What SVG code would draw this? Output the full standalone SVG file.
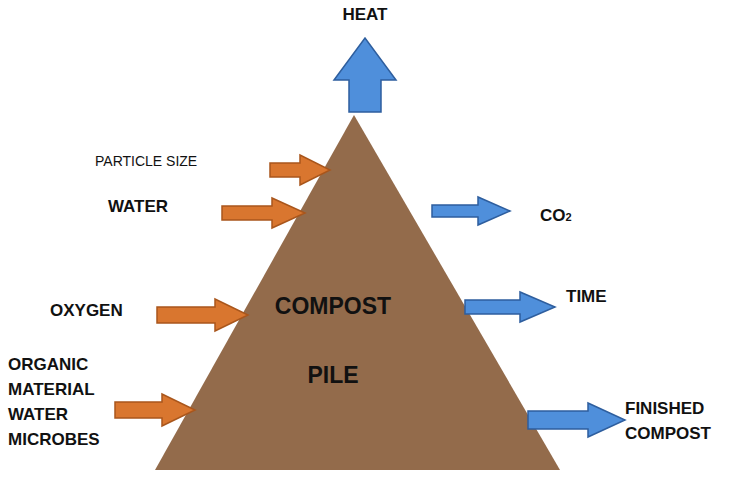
<svg xmlns="http://www.w3.org/2000/svg" width="742" height="494" viewBox="0 0 742 494">
<style>
.o{fill:#D9762F;stroke:#A9561C;stroke-width:1.5}
.b{fill:#4F8FDB;stroke:#2E5E9E;stroke-width:1.5}
text{font-family:"Liberation Sans",Arial,sans-serif;font-weight:bold;fill:#111}
.l{font-size:17px}
.n{font-weight:normal;font-size:14px}
</style>
<rect width="742" height="494" fill="#fff"/>
<g id="pile">
<polygon points="354,115 155,470 560,470" fill="#936B4B"/>
<text x="333" y="314" font-size="23" text-anchor="middle">COMPOST</text>
<text x="333" y="383" font-size="23" text-anchor="middle">PILE</text>
</g>
<g id="connectors">
<polygon class="b" points="349,112 349,80 334,80 365,38 396,80 381,80 381,112"/>
<polygon class="o" points="270,163 300,163 300,155 330,170 300,185 300,177 270,177"/>
<polygon class="o" points="222,206 272,206 272,198 305,213 272,228 272,220 222,220"/>
<polygon class="o" points="157,307 215,307 215,299 248,315 215,331 215,323 157,323"/>
<polygon class="o" points="115,402 162,402 162,394 195,410 162,426 162,418 115,418"/>
<polygon class="b" points="432,205 478,205 478,197 510,211 478,225 478,217 432,217"/>
<polygon class="b" points="465,300 520,300 520,292 555,307 520,322 520,314 465,314"/>
<polygon class="b" points="528,411 588,411 588,403 625,420 588,437 588,429 528,429"/>
</g>
<g id="heat"><text class="l" x="365" y="20" text-anchor="middle">HEAT</text></g>
<g id="particle"><text class="n" x="95" y="166">PARTICLE SIZE</text></g>
<g id="water"><text class="l" x="108" y="212">WATER</text></g>
<g id="oxygen"><text class="l" x="50" y="316">OXYGEN</text></g>
<g id="organic"><text class="l" x="8" y="370">ORGANIC</text><text class="l" x="8" y="395">MATERIAL</text><text class="l" x="8" y="420">WATER</text><text class="l" x="8" y="445">MICROBES</text></g>
<g id="co2"><text class="l" x="540" y="221">CO<tspan font-size="11">2</tspan></text></g>
<g id="time"><text class="l" x="566" y="302">TIME</text></g>
<g id="finished"><text class="l" x="625" y="414">FINISHED</text><text class="l" x="625" y="439">COMPOST</text></g>
</svg>
